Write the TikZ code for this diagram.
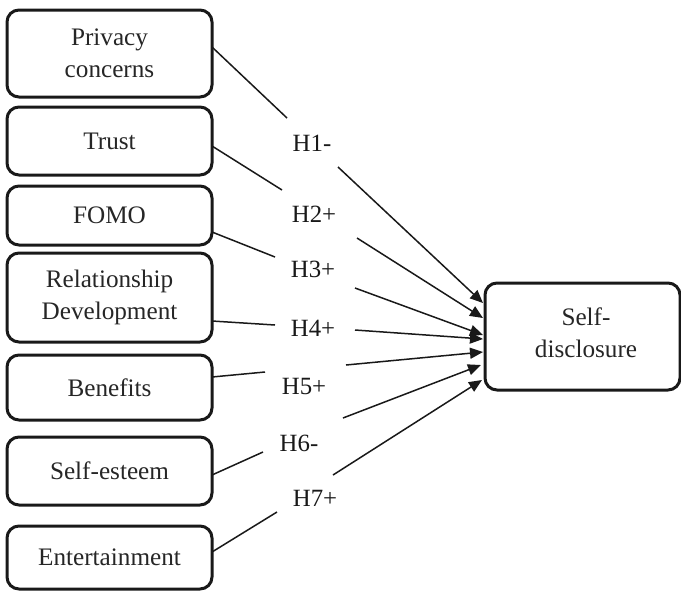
\documentclass[tikz,border=0pt]{standalone}
\usepackage{fontspec}
\setmainfont{Liberation Serif}
\usetikzlibrary{arrows.meta}
\begin{document}
\begin{tikzpicture}[x=0.5pt,y=-0.5pt,
  box/.style={draw=black!90, line width=1.5pt, rounded corners=6pt, align=center,
    text=black!85, font=\fontsize{12.6}{16}\selectfont, inner sep=0pt, minimum width=102.5pt},
  hyp/.style={text=black!90, font=\fontsize{12.4}{14}\selectfont, inner sep=0pt},
  link/.style={draw=black!90, line width=0.75pt},
  arr/.style={link, -{Triangle[length=6.5pt,width=5.5pt]}}
]
\useasboundingbox (0,0) rectangle (681,591);

% predictor boxes
\node[box, minimum height=43.5pt] (pc) at (109.5,53.5) {Privacy\\concerns};
\node[box, minimum height=34pt]   (tr) at (109.5,141) {Trust};
\node[box, minimum height=29.5pt] (fo) at (109.5,215.5) {FOMO};
\node[box, minimum height=44.5pt] (rd) at (109.5,297.5) {Relationship\\Development};
\node[box, minimum height=32.5pt] (be) at (109.5,387.5) {Benefits};
\node[box, minimum height=34pt]   (se) at (109.5,471) {Self-esteem};
\node[box, minimum height=31.5pt] (en) at (109.5,557.5) {Entertainment};

% outcome box
\node[box, minimum width=97.5pt, minimum height=53.5pt] (sd) at (582.5,336.5) {};
\node[align=center, text=black!85, font=\fontsize{12.6}{16}\selectfont, inner sep=0pt]
  (sdt) at (586,333) {Self-\\disclosure};

% hypothesis labels
\node[hyp] (h1) at (312,143) {H1-};
\node[hyp] (h2) at (314,214) {H2+};
\node[hyp] (h3) at (313,269) {H3+};
\node[hyp] (h4) at (313,328) {H4+};
\node[hyp] (h5) at (304,386) {H5+};
\node[hyp] (h6) at (299,443) {H6-};
\node[hyp] (h7) at (315,498) {H7+};

% path end points around each label
\coordinate (s1) at (212,47);  \coordinate (a1) at (287,118); \coordinate (b1) at (338,167); \coordinate (t1) at (483,303);
\coordinate (s2) at (212,146); \coordinate (a2) at (282,190); \coordinate (b2) at (357,238); \coordinate (t2) at (483,318);
\coordinate (s3) at (212,232); \coordinate (a3) at (275,257); \coordinate (b3) at (355,288); \coordinate (t3) at (483,335);
\coordinate (s4) at (212,321); \coordinate (a4) at (275,325); \coordinate (b4) at (355,330); \coordinate (t4) at (483,339);
\coordinate (s5) at (212,377); \coordinate (a5) at (265,372); \coordinate (b5) at (346,365); \coordinate (t5) at (483,352);
\coordinate (s6) at (212,475); \coordinate (a6) at (263,452); \coordinate (b6) at (343,418); \coordinate (t6) at (481,365);
\coordinate (s7) at (212,552); \coordinate (a7) at (277,512); \coordinate (b7) at (333,475); \coordinate (t7) at (482,380);

\foreach \i in {1,...,7}{
  \draw[link] (s\i) -- (a\i);
  \draw[arr] (b\i) -- (t\i);
}
\end{tikzpicture}
\end{document}
